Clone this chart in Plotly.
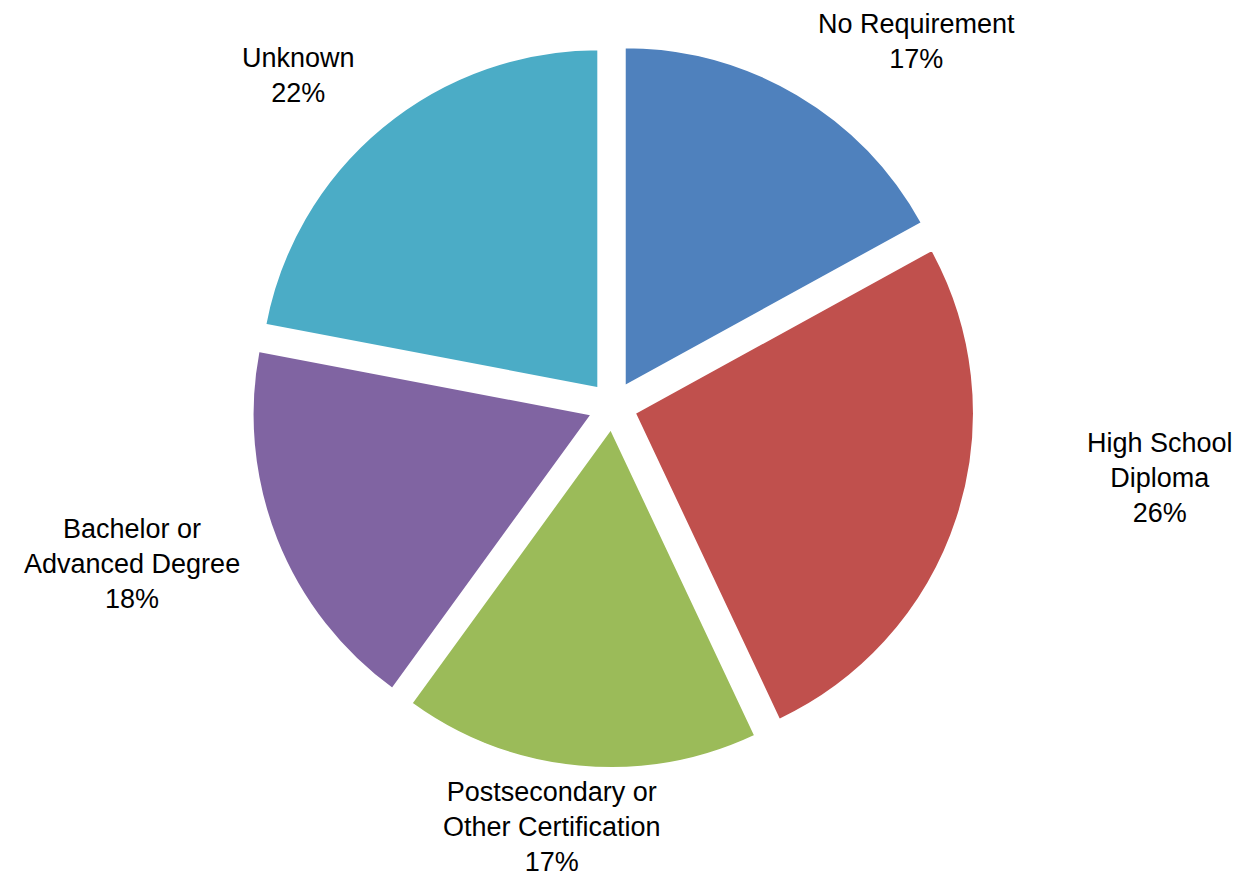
import plotly.graph_objects as go

categories = ["No Requirement", "High School Diploma", "Postsecondary or Other Certification",
              "Bachelor or Advanced Degree", "Unknown"]
display_labels = ["No Requirement", "High School<br>Diploma", "Postsecondary or<br>Other Certification",
                  "Bachelor or<br>Advanced Degree", "Unknown"]
values = [17, 26, 17, 18, 22]
colors = ["#4F81BD", "#C0504D", "#9BBB59", "#8064A2", "#4BACC6"]

W, H = 1245, 876
# label anchor centres (pixels) for text placement
label_pos = [(908, 34), (1152, 470), (544, 819), (124, 556), (290, 68)]

PULL = 0.068
R = 339
CX, CY = 605, 398
half = R * (1 + PULL)

fig = go.Figure(go.Pie(
    labels=categories,
    values=values,
    sort=False,
    direction="clockwise",
    rotation=0,
    pull=[PULL] * 5,
    marker=dict(colors=colors, line=dict(color="white", width=2)),
    textinfo="none",
    hoverinfo="label+percent",
    showlegend=False,
    domain=dict(x=[(CX - half) / W, (CX + half) / W], y=[1 - (CY + half) / H, 1 - (CY - half) / H]),
))

total = sum(values)
for lab, v, (px, py) in zip(display_labels, values, label_pos):
    fig.add_annotation(
        x=px / W, y=1 - py / H, xref="paper", yref="paper",
        text=f"{lab}<br>{round(100 * v / total)}%",
        showarrow=False, xanchor="center", yanchor="middle",
        font=dict(family="Liberation Sans, Arial, sans-serif", size=27, color="#000000"),
        align="center",
    )

fig.update_layout(
    width=W, height=H,
    margin=dict(l=0, r=0, t=0, b=0),
    paper_bgcolor="white", plot_bgcolor="white",
)

fig.write_html("out.html")
